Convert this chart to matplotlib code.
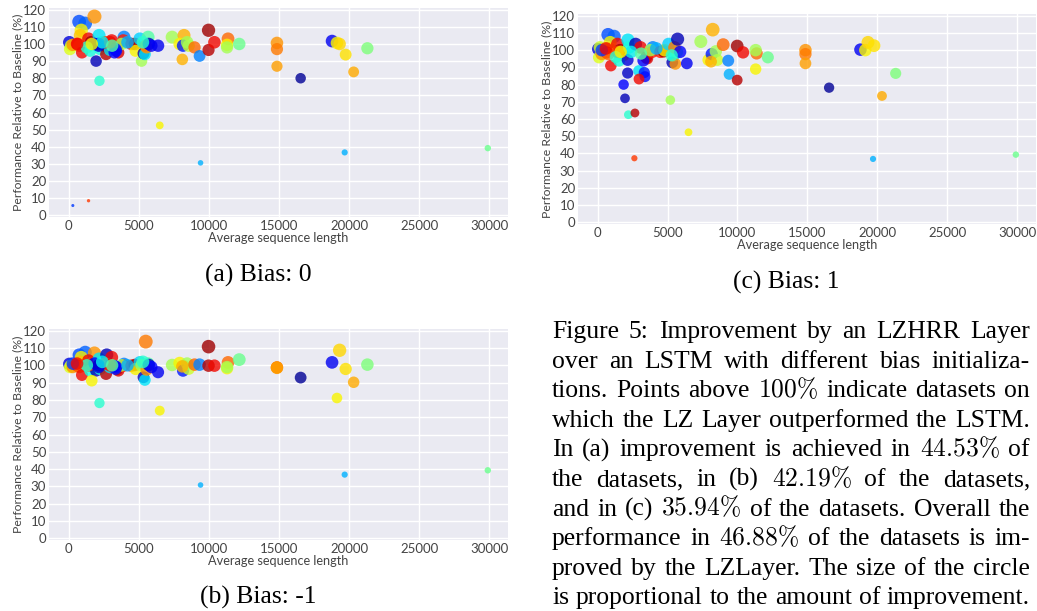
import re

import matplotlib
matplotlib.use("Agg")
import matplotlib.pyplot as plt
from matplotlib import cm

# one entry per dataset, shared by the three panels
seq_len = [50, 170, 100, 290, 750, 1180, 1840, 900, 830, 640,
           760, 950, 1420, 1600, 1540, 1960, 2170, 2250, 2200, 2720,
           2670, 3070, 2950, 3470, 3550, 3950, 3900, 3780, 4490, 4730,
           4780, 5080, 5200, 5340, 5440, 5670, 5560, 5500, 5720, 5900,
           6380, 6500, 7380, 8230, 7920, 8160, 8560, 8450, 8110, 8980,
           9340, 9410, 9980, 9980, 10400, 11370, 11300, 11300, 12170, 300,
           1420, 2630, 14860, 14860, 14860, 16550, 18790, 19140, 19330, 19760,
           20330, 21310, 19690, 29900, 1860, 2150, 2150, 3340, 3390, 3270,
           2960, 2400, 1300, 600, 3100, 5300, 4200, 1650]
color_val = [.08, .60, .62, .75, .20, .22, .75, .65, .70, .88,
             .80, .90, .90, .97, .38, .05, .35, .38, .40, .05,
             .95, .90, .35, .97, .92, .25, .88, .55, .88, .97,
             .65, .33, .55, .05, .35, .45, .75, .78, .05, .12,
             .10, .65, .55, .72, .65, .15, .60, .55, .72, .80,
             .25, .30, .97, .95, .90, .80, .65, .55, .48, .18,
             .85, .85, .75, .78, .74, .02, .10, .65, .68, .67,
             .73, .50, .30, .48, .12, .06, .08, .15, .14, .12,
             .90, .36, .40, .90, .45, .40, .30, .65]
perf_bias0 = [101, 99, 97, 99.5, 113, 112, 116, 108, 105, 100,
              99, 95, 103, 101, 96, 90, 105, 97, 78.5, 98.5,
              94, 102, 96.5, 98.5, 95, 104, 102, 100, 100, 100,
              96, 103, 90, 94.5, 94, 104, 98, 99, 100, 99,
              99, 52.5, 104, 105, 100, 99, 99, 101, 91, 98,
              93, 30.6, 108, 96.5, 101, 103, 99.5, 98, 100, 5.7,
              8.5, 101, 100.6, 97, 87, 80, 101.7, 100.6, 100, 93.8,
              83.7, 97.5, 36.7, 39.2, 100, 99, 100, 97, 96, 95,
              101, 101, 98, 100, 99, 101, 101, 100]
perf_bias_neg1 = [100.8, 99.8, 99, 99, 106, 107.5, 107.1, 104.6, 102, 99.8,
                  99, 94.4, 102.7, 100.2, 97, 97, 103.7, 97.9, 78.2, 106,
                  95, 104.6, 99, 97.9, 97, 100.8, 99.8, 100, 99.8, 100.2,
                  97.9, 101.7, 100, 93.1, 91.5, 101, 97.5, 113.7, 100.2, 99,
                  96, 73.8, 100.2, 99.4, 101.3, 96.9, 98, 101, 99.4, 100.4,
                  100.4, 30.8, 110.8, 99.8, 99.8, 101.7, 98.3, 99, 103.3, 101,
                  100, 101, 98.8, 98.8, 98.5, 92.9, 101.7, 81.1, 108.7, 97.9,
                  90.2, 100.4, 36.8, 39.3, 101, 100, 99, 98, 99, 99.5,
                  100, 102, 100, 101, 100, 102, 100, 91.1]
perf_bias1 = [100.6, 101.6, 95.8, 97.7, 109, 108, 97, 104.5, 101, 98.7,
              97.7, 91, 103.5, 100, 93.9, 72, 105.9, 101.6, 62.5, 103.5,
              63.5, 101.6, 88, 95.8, 95.2, 101.6, 99, 100, 99, 99.3,
              100, 103.5, 71, 92.9, 96.8, 99, 92, 101.6, 106.4, 99,
              92.3, 52.3, 105, 111.9, 94.3, 97.7, 94.3, 99.3, 93.3, 103.2,
              93.9, 86, 102.4, 82.6, 98.7, 98.1, 89, 100, 95.8, 100,
              99, 37.2, 100, 97.7, 92.3, 78.2, 100.3, 100, 104.5, 102.6,
              73.4, 86.5, 36.8, 39.3, 80, 86.7, 94.3, 87, 84.6, 93.9,
              83.2, 99, 96, 101, 98, 97, 101, 99]

panel_titles = ["(a) Bias: 0", "(b) Bias: -1", "(c) Bias: 1"]

caption_lines = [
    "Figure 5: Improvement by an LZHRR Layer",
    "over an LSTM with different bias initializa-",
    "tions. Points above 100% indicate datasets on",
    "which the LZ Layer outperformed the LSTM.",
    "In (a) improvement is achieved in 44.53% of",
    "the datasets, in (b) 42.19% of the datasets,",
    "and in (c) 35.94% of the datasets. Overall the",
    "performance in 46.88% of the datasets is im-",
    "proved by the LZLayer. The size of the circle",
    "is proportional to the amount of improvement.",
]

W, H = 1037, 611
plt.rcParams['mathtext.fontset'] = 'cm'
fig = plt.figure(figsize=(W / 100, H / 100), dpi=100)
renderer = fig.canvas.get_renderer()


def px_axes(left, top, right, bottom):
    return fig.add_axes([left / W, 1 - bottom / H, (right - left) / W, (bottom - top) / H])


def scatter_panel(ax, perf):
    ax.set_facecolor('#EAEAF2')
    for s in ax.spines.values():
        s.set_visible(False)
    ax.grid(True, color='white', lw=1.0)
    ax.set_axisbelow(True)
    diam = [(2.5 + 0.1 * p) * 0.72 for p in perf]
    ax.scatter(seq_len, perf, s=[d ** 2 for d in diam], c=color_val, cmap=cm.jet,
               vmin=0, vmax=1, alpha=0.8, linewidths=0, zorder=3)
    ax.set_xlim(-1400, 31340)
    ax.set_ylim(-1, 121)
    ax.set_xticks(range(0, 30001, 5000))
    ax.set_yticks(range(0, 121, 10))
    ax.tick_params(length=0, labelsize=9.5, colors='#444444', pad=2)
    for lab in ax.get_xticklabels() + ax.get_yticklabels():
        lab.set_fontfamily('Lato')
    ax.set_xlabel('Average sequence length', fontsize=9.2, family='Lato', color='#444444', labelpad=0)
    ax.set_ylabel('Performance Relative to Baseline (%)', fontsize=8.8, family='Lato',
                  color='#444444', labelpad=0)


ax_a = px_axes(49, 8, 508, 217)
ax_b = px_axes(49, 329, 508, 540)
ax_c = px_axes(578, 14, 1036, 224)
scatter_panel(ax_a, perf_bias0)
scatter_panel(ax_b, perf_bias_neg1)
scatter_panel(ax_c, perf_bias1)

serif = ['Liberation Serif', 'DejaVu Serif']


def token(w):
    if re.fullmatch(r'[\d.]+%', w):
        return '$' + w.replace('%', r'\%') + '$'
    return w


# pick the caption size so the widest line just fits the column
x0, x1 = 552, 1030
fs = 17.5
widest = 0
for line in caption_lines:
    t = fig.text(0, 0, ' '.join(token(w) for w in line.split()), fontsize=fs, family=serif)
    widest = max(widest, t.get_window_extent(renderer).width)
    t.remove()
fs = fs * (x1 - x0 - 4) / widest

for title, (cx, by) in zip(panel_titles, [(258, 282), (258, 604), (786, 289)]):
    fig.text(cx / W, 1 - by / H, title, ha='center', va='baseline', fontsize=fs, family=serif)

# justified caption, word by word
for i, line in enumerate(caption_lines):
    by = 338 + i * 29.6
    texts = [fig.text(0, 1 - by / H, token(w), va='baseline', fontsize=fs, family=serif)
             for w in line.split()]
    widths = [t.get_window_extent(renderer).width for t in texts]
    gap = (x1 - x0 - sum(widths)) / (len(texts) - 1)
    x = x0
    for t, w in zip(texts, widths):
        t.set_x(x / W)
        x += w + gap

fig.savefig('out.png', dpi=100)
